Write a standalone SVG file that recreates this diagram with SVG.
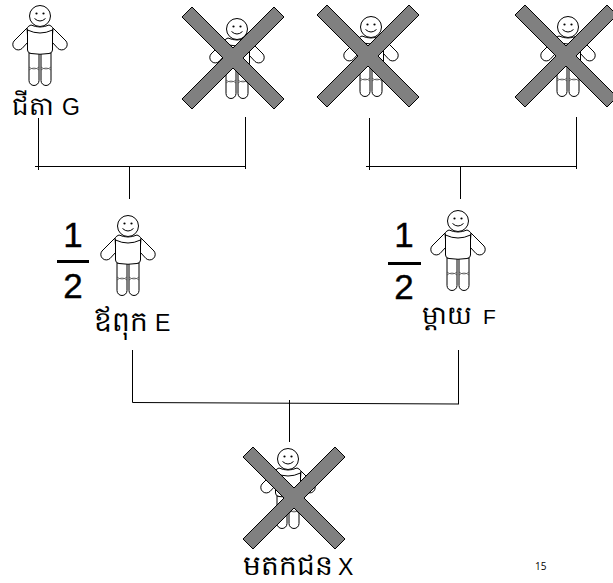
<svg xmlns="http://www.w3.org/2000/svg" width="613" height="583" viewBox="0 0 613 583">
<style>
text{font-family:"Liberation Sans","Noto Sans",sans-serif;fill:#000}
.lat{font-size:23px}
.latf{font-size:21px}
.kh{font-size:26px}
.kl{font-size:28px}
.num{font-size:35px;text-anchor:middle;stroke:#000;stroke-width:.4}
.pg{font-size:10px;font-family:"Open Sans",sans-serif}
.ln{fill:none;stroke:#000;stroke-width:1}
.p{fill:#fff;stroke:#000;stroke-width:1}
.f{fill:none;stroke:#000;stroke-width:1}
.k{fill:none;stroke:#333;stroke-width:.6}
.x{fill:#808080;stroke:#000;stroke-width:1}
</style>
<defs>
<g id="person">
<path class="p" d="M-13,12 L-26,25 A5.500,5.500 0 0 0 -18,32.500 L-12,26 Z"/>
<path class="p" d="M13,12 L26,25 A5.500,5.500 0 0 1 18,32.500 L12,26 Z"/>
<path class="p" d="M-11,37 V64.500 A5,5 0 0 0 -1,64.500 V37 Z"/>
<path class="p" d="M1,37 V64.500 A5,5 0 0 0 11,64.500 V37 Z"/>
<path class="k" d="M-11,51 Q-6,55 -1,51 M-11,54 Q-6,50 -1,54 M1,51 Q6,55 11,51 M1,54 Q6,50 11,54"/>
<path class="p" d="M-12.500,14 Q-14,11 -9,9 Q0,13 9,9 Q14,11 12.500,14 V34 Q12.500,37 9,37.500 Q0,39 -9,37.500 Q-12.500,37 -12.500,34 Z"/>
<path class="f" d="M-12.500,14 Q0,20 12.500,14"/>
<circle class="p" cx="0" cy="0" r="10.500"/>
<circle cx="-3.500" cy="-2.500" r="1.100"/>
<circle cx="3.500" cy="-2.500" r="1.100"/>
<path class="f" d="M-5.500,2.500 Q0,7.500 5.500,2.500"/>
</g>
<polygon id="cross" class="x" points="-41,-51 0,-10 41,-51 51,-41 10,0 51,41 41,51 0,10 -41,51 -51,41 -10,0 -51,-41"/>
</defs>
<g id="connectors">
<path class="ln" d="M38.500,118V170M35,166.500H246M245.500,117V169M129.500,166V199"/>
<path class="ln" d="M369.500,118V170M366,166.500H577M576.500,117V169M460.500,166V199"/>
<path class="ln" d="M132.500,350V402.500L459,404M458.500,350V404M289.500,400V442"/>
</g>
<g id="node-g">
<use href="#person" x="40" y="16"/>
<text class="kh" x="12" y="115">ជីតា</text>
<text class="lat" x="62" y="115">G</text>
</g>
<g id="node-gm">
<use href="#person" x="237" y="29"/>
<use href="#cross" x="233" y="58"/>
</g>
<g id="node-fgf">
<use href="#person" x="371" y="27"/>
<use href="#cross" x="368" y="56"/>
</g>
<g id="node-fgm">
<use href="#person" x="568" y="27"/>
<use href="#cross" x="566" y="56"/>
</g>
<g id="node-e">
<text class="num" x="73" y="247">1</text>
<rect x="57" y="260" width="32" height="3"/>
<text class="num" x="73" y="298">2</text>
<use href="#person" x="128" y="226"/>
<text class="kl" x="94" y="331">ឪពុក</text>
<text class="lat" x="155" y="331">E</text>
</g>
<g id="node-f">
<text class="num" x="404" y="247">1</text>
<rect x="388" y="262" width="33" height="3"/>
<text class="num" x="404" y="299">2</text>
<use href="#person" x="458" y="221"/>
<text class="kh" x="422" y="324">ម្តាយ</text>
<text class="latf" x="483" y="324">F</text>
</g>
<g id="node-x">
<use href="#person" x="288" y="459"/>
<use href="#cross" x="294" y="498" style="fill:#8c8c8c"/>
<text class="kl" x="243" y="575">មតកជន</text>
<text class="lat" x="338" y="575">X</text>
</g>
<text class="pg" x="535" y="570">15</text>
</svg>
